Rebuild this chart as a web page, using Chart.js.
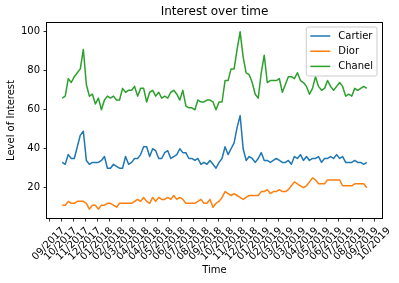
<!DOCTYPE html>
<html><head><meta charset="utf-8">
<script src="https://cdn.jsdelivr.net/npm/chart.js@4.4.1/dist/chart.umd.min.js"></script>
<style>html,body{margin:0;padding:0;background:#fff;} canvas{display:block;}</style>
</head><body>
<canvas id="c" width="399" height="283"></canvas>
<script>
// ---- data (weekly points, index = week number) ----
const seriesNames = ['Cartier', 'Dior', 'Chanel'];
const cartier = [33,32,37,35,35,41,47,49,34,32, 33,33,33,34,36,30,30,32,31,30,
  30,36,32,33,35,35,37,41,41,36, 40,39,35,35,38,39,35,36,37,40,
  38,38,35,35,34,35,32,33,32,34, 32,30,33,35,41,37,40,43,51,57,
  40,34,36,35,33,35,38,34,34,33, 34,35,34,33,33,34,32,36,35,37,
  34,36,34,35,35,36,33,35,35,36, 35,37,35,36,33,33,33,34,33,33,
  32,33];
const dior = [11,11,13,12,12,13,13,13,12,9, 11,11,9,11,11,12,12,11,10,12,
  12,12,12,12,13,14,13,15,13,12, 15,13,15,14,14,15,14,16,14,15,
  14,12,12,12,12,13,14,12,12,14, 10,12,13,15,18,17,16,17,16,15,
  14,15,16,16,16,16,18,18,19,17, 18,18,19,18,18,19,21,23,22,21,
  20,21,23,25,24,22,22,22,24,24, 24,24,24,21,21,21,21,22,22,22,
  22,20];
const chanel = [66,67,76,74,77,79,81,91,73,67, 68,63,66,60,65,67,66,67,65,65,
  71,69,70,70,72,67,71,71,64,69, 70,67,69,66,67,66,69,70,68,65,
  70,62,61,61,60,65,64,64,65,65, 64,60,64,64,75,75,81,81,91,100,
  87,79,78,74,68,66,79,88,74,75, 75,75,76,69,73,77,77,76,79,75,
  74,72,68,71,77,72,70,71,75,72, 70,72,74,72,67,68,67,71,70,71,
  72,71];
const xTickLabels = ['09/2017','10/2017','11/2017','12/2017','01/2018','02/2018','03/2018',
  '04/2018','04/2018','05/2018','06/2018','07/2018','08/2018','09/2018','10/2018','11/2018',
  '12/2018','01/2019','02/2019','03/2019','03/2019','04/2019','05/2019','06/2019','07/2019',
  '08/2019','09/2019','10/2019'];
const yTicks = [20, 40, 60, 80, 100];
const colors = ['#1f77b4', '#ff7f0e', '#2ca02c'];

// ---- derived ----
const nPts = cartier.length;
const toXY = arr => arr.map((v, i) => ({x: i, y: v}));
const xTickPos = xTickLabels.map((_, k) => 4 * k - 4.3); // ticks every 4 weeks
const allVals = cartier.concat(dior, chanel);
const yLo = Math.min(...allVals), yHi = Math.max(...allVals);
const yPad = (yHi - yLo) * 0.05;
const xPad = (nPts - 1) * 0.05;
const FONT = 'DejaVu Sans';

const framePlugin = {
  id: 'frame',
  afterDraw(chart) {
    const {ctx, chartArea: a} = chart;
    ctx.save();
    ctx.strokeStyle = '#000';
    ctx.lineWidth = 1;
    ctx.strokeRect(Math.round(a.left) - 0.5, Math.round(a.top) - 0.5,
      Math.round(a.right) - Math.round(a.left) + 1, Math.round(a.bottom) - Math.round(a.top) + 1);
    ctx.restore();
  }
};

const legendPlugin = {
  id: 'mplLegend',
  afterDraw(chart) {
    const {ctx, chartArea: a} = chart;
    const ds = chart.data.datasets;
    ctx.save();
    ctx.font = '10px "' + FONT + '"';
    const maxW = Math.max(...ds.map(d => ctx.measureText(d.label).width));
    const pad = 4, handle = 20, gap = 8, rowH = 15.2;
    const w = pad + handle + gap + maxW + pad;
    const h = 49;
    const right = a.right - 5, top = a.top + 4, left = right - w;
    const r = 2;
    ctx.beginPath();
    ctx.moveTo(left + r, top);
    ctx.lineTo(right - r, top); ctx.arcTo(right, top, right, top + r, r);
    ctx.lineTo(right, top + h - r); ctx.arcTo(right, top + h, right - r, top + h, r);
    ctx.lineTo(left + r, top + h); ctx.arcTo(left, top + h, left, top + h - r, r);
    ctx.lineTo(left, top + r); ctx.arcTo(left, top, left + r, top, r);
    ctx.closePath();
    ctx.fillStyle = 'rgba(255,255,255,0.8)';
    ctx.fill();
    ctx.strokeStyle = '#cccccc';
    ctx.lineWidth = 1;
    ctx.stroke();
    ds.forEach((d, i) => {
      const cy = top + 9 + i * rowH;
      ctx.strokeStyle = d.borderColor;
      ctx.lineWidth = 1.5;
      ctx.beginPath();
      ctx.moveTo(left + pad, cy);
      ctx.lineTo(left + pad + handle, cy);
      ctx.stroke();
      ctx.fillStyle = '#000';
      ctx.textAlign = 'left';
      ctx.textBaseline = 'middle';
      ctx.fillText(d.label, left + pad + handle + gap, cy + 0.5);
    });
    ctx.restore();
  }
};

const tickFont = {family: FONT, size: 10};
new Chart(document.getElementById('c').getContext('2d'), {
  type: 'line',
  data: {
    datasets: [
      {label: seriesNames[0], data: toXY(cartier), borderColor: colors[0], order: 3},
      {label: seriesNames[1], data: toXY(dior), borderColor: colors[1], order: 2},
      {label: seriesNames[2], data: toXY(chanel), borderColor: colors[2], order: 1}
    ]
  },
  options: {
    responsive: false,
    animation: false,
    devicePixelRatio: 1,
    layout: {padding: {left: 0, right: 17, top: 0, bottom: 0}},
    elements: {
      point: {radius: 0, hoverRadius: 0},
      line: {borderWidth: 1.5, tension: 0, borderJoinStyle: 'round', fill: false}
    },
    plugins: {
      legend: {display: false},
      tooltip: {enabled: false},
      title: {
        display: true, text: 'Interest over time', fullSize: false, color: '#000',
        font: {family: FONT, size: 12, weight: 'normal'},
        padding: {top: 5, bottom: 3.6}
      }
    },
    scales: {
      x: {
        type: 'linear',
        min: -xPad, max: nPts - 1 + xPad,
        afterBuildTicks: s => { s.ticks = xTickPos.map(v => ({value: v})); },
        afterFit: s => { s.height = 65; s.paddingLeft = 0; s.paddingRight = 0; },
        grid: {drawOnChartArea: false, drawTicks: true, tickLength: 3.5, color: '#000', lineWidth: 0.8},
        border: {display: false},
        ticks: {
          autoSkip: false, minRotation: 45, maxRotation: 45, padding: 3.5, labelOffset: 14,
          color: '#000', font: tickFont,
          callback: (v, i) => xTickLabels[i]
        },
        title: {display: true, text: 'Time', color: '#000', font: tickFont, padding: {top: 0, bottom: 7}}
      },
      y: {
        type: 'linear',
        min: yLo - yPad, max: yHi + yPad,
        afterBuildTicks: s => { s.ticks = yTicks.map(v => ({value: v})); },
        afterFit: s => { s.width = 47; s.paddingTop = 0; s.paddingBottom = 0; },
        grid: {drawOnChartArea: false, drawTicks: true, tickLength: 3.5, color: '#000', lineWidth: 0.8},
        border: {display: false},
        ticks: {padding: 3.5, color: '#000', font: tickFont},
        title: {display: true, text: 'Level of Interest', color: '#000', font: tickFont, padding: {top: 5, bottom: 0}}
      }
    }
  },
  plugins: [framePlugin, legendPlugin]
});
</script>
</body></html>
